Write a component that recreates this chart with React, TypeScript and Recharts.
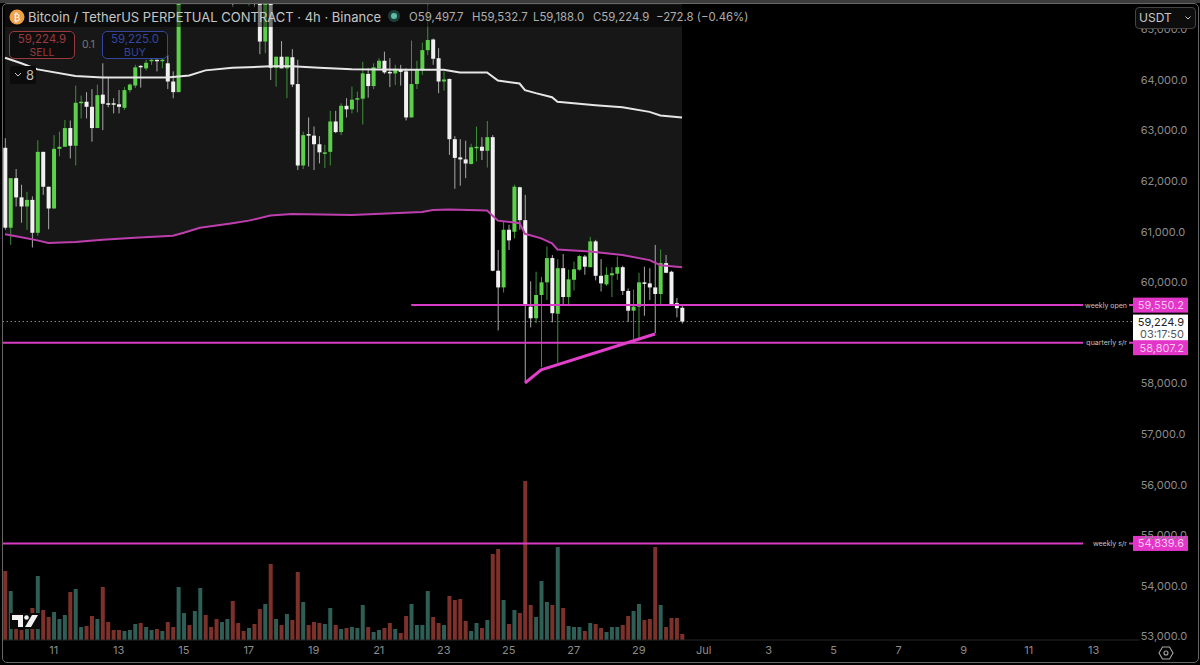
import React from 'react';
import {
  ComposedChart, Area, Bar, Line, XAxis, YAxis, ReferenceLine
} from 'recharts';

const opens = [
  62660, 61080, 62060, 61680, 61500, 61630, 60980, 62580, 61890, 61460,
  62640, 62680, 63050, 62700, 63550, 63570, 63470, 63050, 63710, 63540,
  63540, 63520, 63450, 63800, 63890, 64280, 64230, 64380, 64400, 64380,
  64330, 63970, 63760, 65700, 66100, 65900, 66300, 66700, 66450, 66200,
  66000, 66300, 66500, 65950, 65800, 65700, 65950, 65650, 64760, 65600,
  64240, 64460, 64230, 64450, 63920, 62310, 62930, 62900, 62730, 62550,
  62580, 63180, 62970, 63490, 63420, 63610, 63630, 64120, 63880, 64230,
  64380, 64160, 64130, 64200, 64170, 63260, 63920, 64190, 64590, 64800,
  64430, 63970, 64020, 62830, 62470, 62430, 62340, 62670, 62680, 62600,
  62870, 60230, 59900, 61040, 61000, 61880, 61230, 59520, 59290, 59750,
  60000, 60480, 59380, 60280, 59710, 60050, 60250, 60510, 60300, 60810,
  60130, 59960, 60140, 60170, 60300, 59830, 59440, 59520, 60000, 59980,
  59900, 59770, 60380, 60210, 59590, 59497.7,
];
const highs = [
  62850, 62060, 62240, 61930, 61790, 61700, 62810, 62580, 61890, 62910,
  62980, 63210, 63200, 63890, 63690, 63760, 63820, 63910, 64330, 64050,
  63640, 63800, 63860, 63930, 64300, 64290, 64400, 64410, 64400, 64420,
  64490, 64170, 65900, 66250, 66200, 66450, 66850, 66800, 66550, 66300,
  66400, 66650, 66600, 66050, 65900, 66050, 66000, 65750, 65700, 65700,
  64460, 64770, 64460, 64610, 64400, 62980, 63260, 63080, 62890, 62720,
  63390, 63390, 63540, 63640, 63870, 63770, 64360, 64230, 64330, 64430,
  64560, 64430, 64300, 64300, 64230, 64780, 64380, 64740, 65500, 64820,
  64630, 64170, 64030, 62890, 62830, 62800, 62740, 63080, 62870, 63190,
  62910, 60640, 61200, 61140, 61930, 61890, 61730, 60020, 60210, 60110,
  60710, 60540, 60460, 60560, 60250, 60410, 60540, 60540, 60900, 60840,
  60460, 60300, 60300, 60510, 60330, 59880, 59860, 60190, 60310, 60280,
  60740, 60650, 60540, 60230, 59690, 59532.7,
];
const lows = [
  61040, 60740, 61500, 61180, 61040, 60690, 60920, 61730, 61050, 61460,
  62490, 62680, 62450, 62310, 63240, 63240, 62780, 63050, 63010, 63460,
  63340, 63340, 63410, 63750, 63840, 63850, 64190, 64300, 64170, 64230,
  63820, 63640, 63760, 65620, 65800, 65850, 66200, 66300, 66100, 65900,
  65900, 66200, 65440, 65650, 65600, 65450, 65440, 64510, 64530, 64000,
  63870, 64230, 63640, 63860, 62220, 62240, 62290, 62220, 62350, 62260,
  62310, 62950, 62910, 63260, 63340, 63360, 63120, 63650, 63820, 64230,
  64120, 63860, 63900, 63890, 63200, 63260, 63820, 64100, 64490, 64300,
  63740, 63790, 62520, 61850, 61910, 62060, 62330, 62390, 62420, 62270,
  60220, 59050, 59800, 60640, 60870, 61040, 58040, 59110, 59190, 58320,
  59650, 59210, 58410, 59550, 59530, 59840, 60230, 60150, 60300, 60040,
  59820, 59930, 59710, 60050, 59750, 59220, 58880, 58880, 59340, 59650,
  58990, 59550, 60180, 59550, 59310, 59188,
];
const closes = [
  61080, 62060, 61680, 61500, 61630, 60980, 62580, 61890, 61460, 62640,
  62680, 63050, 62700, 63550, 63570, 63470, 63050, 63700, 63530, 63520,
  63520, 63470, 63800, 63910, 64250, 64250, 64340, 64400, 64380, 64400,
  63970, 63760, 65700, 66100, 65900, 66300, 66700, 66450, 66200, 66000,
  66300, 66500, 65950, 65800, 65700, 65950, 65650, 64760, 65600, 64240,
  64460, 64230, 64460, 63910, 62310, 62910, 62900, 62730, 62570, 62570,
  63180, 62970, 63490, 63420, 63610, 63640, 64130, 63880, 64250, 64380,
  64150, 64140, 64220, 64160, 63260, 63920, 64190, 64590, 64790, 64420,
  63970, 64010, 62830, 62460, 62430, 62350, 62670, 62680, 62600, 62870,
  60230, 59900, 61040, 60830, 61890, 61230, 59550, 59290, 59750, 60000,
  60480, 59390, 60280, 59710, 60060, 60260, 60520, 60310, 60810, 60130,
  59980, 60150, 60180, 60300, 59830, 59440, 59520, 60000, 59970, 59900,
  59770, 60380, 60190, 59570, 59490, 59224.9,
];
const volumes = [
  69, 49, 13, 10, 17, 32, 64, 30, 23, 28,
  21, 25, 48, 51, 13, 14, 24, 21, 53, 18,
  10, 10, 9, 10, 16, 17, 13, 10, 11, 9,
  18, 13, 53, 27, 15, 29, 52, 25, 13, 21,
  18, 21, 39, 17, 9, 12, 16, 31, 36, 76,
  21, 15, 26, 20, 68, 38, 15, 18, 17, 16,
  32, 15, 11, 12, 13, 12, 35, 13, 8, 10,
  12, 17, 11, 7, 24, 36, 15, 15, 49, 23,
  17, 15, 44, 40, 41, 19, 9, 17, 12, 20,
  86, 91, 40, 16, 30, 27, 159, 35, 23, 59,
  38, 35, 93, 32, 14, 13, 13, 9, 17, 16,
  12, 8, 13, 13, 15, 24, 29, 36, 20, 21,
  93, 35, 13, 22, 22, 6,
];

// [slot, price] at the bends of each line
const whiteBand = [
  [0, 64440], [3, 64330], [6, 64210], [13, 64080], [18, 64050], [30, 64050], [34, 64090],
  [37, 64190], [42, 64240], [49, 64270], [53, 64270], [58, 64240], [64, 64210], [74, 64200],
  [81, 64200], [84, 64150], [89, 64150], [91, 63990], [95, 63930], [96, 63800], [98, 63740],
  [101, 63660], [102, 63570], [109, 63500], [114, 63460], [119, 63370], [121, 63300], [125, 63260],
];
const pinkBand = [
  [0, 60950], [3, 60890], [6, 60830], [8, 60780], [13, 60800], [18, 60840], [24, 60880],
  [31, 60920], [33, 60980], [36, 61080], [42, 61170], [45, 61220], [49, 61320], [53, 61350],
  [64, 61330], [77, 61390], [79, 61430], [82, 61440], [89, 61420], [91, 61220], [95, 61170],
  [96, 60960], [99, 60870], [101, 60770], [102, 60650], [108, 60610], [114, 60540], [119, 60440],
  [121, 60340], [125, 60300],
];
const trendLine = [[96, 58010], [99, 58270], [120, 58980]];

const tickSlots = [9, 21, 33, 45, 57, 69, 81, 93, 105, 117, 129, 141, 153, 165, 177, 189, 201];
const tickLabels = ['11', '13', '15', '17', '19', '21', '23', '25', '27', '29', 'Jul', '3', '5', '7', '9', '11', '13'];
const priceTicks = [53000, 54000, 55000, 56000, 57000, 58000, 60000, 61000, 62000, 63000, 64000, 65000];

const PRICE_TOP = 65502;
const PRICE_BOTTOM = 52931;
const SLOT_COUNT = 210;
const lastPrice = 59224.9;
const weeklyOpen = 59550.2;
const quarterlySR = 58807.2;
const weeklySR = 54839.6;

const pointAt = (list: number[][], slot: number) => {
  const hit = list.find(p => p[0] === slot);
  return hit ? hit[1] : null;
};

const data = Array.from({ length: SLOT_COUNT }, (_, slot) => ({
  slot,
  open: opens[slot],
  high: highs[slot],
  low: lows[slot],
  close: closes[slot],
  range: slot < opens.length ? [lows[slot], highs[slot]] : null,
  volume: slot < opens.length ? volumes[slot] : null,
  white: pointAt(whiteBand, slot),
  pink: pointAt(pinkBand, slot),
  trend: pointAt(trendLine, slot),
}));

const FONT = 'Inter, "Liberation Sans", sans-serif';
const PINK = '#d93cc4';

const Candle = (props: any) => {
  const { x, y, width, height, payload } = props;
  if (payload.high === undefined || !height) return null;
  const up = payload.close >= payload.open;
  const perPrice = height / (payload.high - payload.low);
  const bodyTop = y + (payload.high - Math.max(payload.open, payload.close)) * perPrice;
  const bodyHeight = Math.max(1.5, Math.abs(payload.close - payload.open) * perPrice);
  return (
    <g>
      <rect x={x + width / 2 - 0.5} y={y} width={1} height={height} fill={up ? '#3f8f38' : '#a8a8a8'} />
      <rect x={x} y={bodyTop} width={width} height={bodyHeight} fill={up ? '#5ccf4b' : '#f1f1f1'} />
    </g>
  );
};

const VolumeBar = (props: any) => {
  const { x, y, width, height, payload } = props;
  if (!height) return null;
  const up = payload.close >= payload.open;
  return <rect x={x} y={y} width={width} height={height} fill={up ? '#2f5e56' : '#7c312b'} />;
};

const PriceTag = ({ viewBox, name, text, shift = 0 }: any) => {
  const y = viewBox.y;
  return (
    <g fontFamily={FONT}>
      <rect x={1083} y={y - 5} width={46} height={10} fill="#000" />
      <text x={1127} y={y + 2.5} textAnchor="end" fontSize={7} fill="#c4c4c4">{name}</text>
      <rect x={1133} y={y - 7.5 + shift} width={55} height={15} fill="#e335c8" />
      <text x={1184} y={y + 4 + shift} textAnchor="end" fontSize={11} fill="#f7c6ef">{text}</text>
    </g>
  );
};

const LastPriceTag = ({ viewBox }: any) => {
  const y = viewBox.y;
  return (
    <g fontFamily={FONT}>
      <rect x={1133} y={y - 7} width={55} height={28} fill="#fff" />
      <text x={1184} y={y + 4} textAnchor="end" fontSize={11} fill="#222">59,224.9</text>
      <text x={1184} y={y + 16.5} textAnchor="end" fontSize={11} fill="#555">03:17:50</text>
    </g>
  );
};

const tradeBox = (left: number, color: string, price: string, side: string) => (
  <div style={{
    position: 'absolute', left, top: 31, width: 66, height: 28, border: `1px solid ${color}`, borderRadius: 5,
    background: '#0e0e0e', color, textAlign: 'center', fontSize: 11.5, lineHeight: '13px', paddingTop: 1, boxSizing: 'border-box',
  }}>
    <div>{price}</div>
    <div style={{ fontSize: 10.5 }}>{side}</div>
  </div>
);

const ohlcText = (left: number, text: string) => (
  <div style={{ position: 'absolute', left, top: 10, fontSize: 11.4, color: '#aeaeae', whiteSpace: 'nowrap' }}>{text}</div>
);

const App: React.FC = () => {
  return (
    <div style={{ position: 'absolute', left: 0, top: 0, width: 1200, height: 665, background: '#000', overflow: 'hidden', fontFamily: FONT }}>
      <ComposedChart
        width={1200}
        height={665}
        data={data}
        barGap={0}
        margin={{ top: 4, right: 0, bottom: 0, left: 2.3 }}
      >
        <XAxis
          dataKey="slot"
          ticks={tickSlots}
          interval={0}
          height={25}
          tickSize={0}
          tickMargin={6}
          tickFormatter={(v: number) => tickLabels[tickSlots.indexOf(v)]}
          tick={{ fill: '#8c8c8c', fontSize: 11, fontFamily: FONT }}
          axisLine={{ stroke: '#262626' }}
        />
        <XAxis xAxisId="vol" dataKey="slot" hide />
        <YAxis
          orientation="right"
          width={60.3}
          domain={[PRICE_BOTTOM, PRICE_TOP]}
          allowDataOverflow
          ticks={priceTicks}
          interval={0}
          tickSize={0}
          tickMargin={1}
          tickFormatter={(v: number) => v.toLocaleString('en-US', { minimumFractionDigits: 1 })}
          tick={{ fill: '#8c8c8c', fontSize: 11, fontFamily: FONT }}
          axisLine={false}
        />
        <YAxis yAxisId="vol" hide domain={[0, 636]} />

        <Area dataKey="pink" baseValue={PRICE_TOP} connectNulls fill="#171717" fillOpacity={1} stroke="none" dot={false} activeDot={false} isAnimationActive={false} />
        <Bar xAxisId="vol" yAxisId="vol" dataKey="volume" barSize={4} shape={VolumeBar} isAnimationActive={false} />
        <Bar dataKey="range" barSize={4} shape={Candle} isAnimationActive={false} />
        <Line dataKey="white" connectNulls stroke="#e6e6e6" strokeWidth={2} dot={false} activeDot={false} isAnimationActive={false} />
        <Line dataKey="pink" connectNulls stroke="#bd3fae" strokeWidth={2} dot={false} activeDot={false} isAnimationActive={false} />

        <ReferenceLine
          y={lastPrice}
          stroke="#d0d0d0"
          strokeDasharray="1 3"
          label={<LastPriceTag />}
        />
        <ReferenceLine
          segment={[{ x: 75, y: weeklyOpen }, { x: 209, y: weeklyOpen }]}
          stroke={PINK}
          strokeWidth={2}
          label={<PriceTag name="weekly open" text="59,550.2" />}
        />
        <ReferenceLine
          y={quarterlySR}
          stroke={PINK}
          strokeWidth={2}
          label={<PriceTag name="quarterly s/r" text="58,807.2" shift={5} />}
        />
        <ReferenceLine
          y={weeklySR}
          stroke={PINK}
          strokeWidth={2}
          label={<PriceTag name="weekly s/r" text="54,839.6" />}
        />
        <Line dataKey="trend" connectNulls stroke="#e23fcb" strokeWidth={3} dot={false} activeDot={false} isAnimationActive={false} />
      </ComposedChart>

      {/* header strip */}
      <div style={{ position: 'absolute', left: 4, top: 5, width: 735, height: 22, background: 'rgba(0,0,0,0.5)' }} />
      <svg width={26} height={26} style={{ position: 'absolute', left: 4, top: 4 }}>
        <circle cx={13} cy={13} r={7.5} fill="#f0a243" />
        <text x={13} y={16.5} textAnchor="middle" fontSize={10} fontFamily="DejaVu Sans" fill="#fff">₿</text>
      </svg>
      <div style={{ position: 'absolute', left: 28, top: 9, fontSize: 13, color: '#c6c6c6', whiteSpace: 'nowrap' }}>
        Bitcoin / TetherUS PERPETUAL CONTRACT · 4h · Binance
      </div>
      <svg width={16} height={16} style={{ position: 'absolute', left: 386, top: 8 }}>
        <circle cx={8} cy={8} r={6} fill="#1d3f3a" />
        <circle cx={8} cy={8} r={3} fill="#62bcaa" />
      </svg>
      {ohlcText(409, 'O59,497.7')}
      {ohlcText(472, 'H59,532.7')}
      {ohlcText(533, 'L59,188.0')}
      {ohlcText(593, 'C59,224.9')}
      {ohlcText(656, '−272.8 (−0.46%)')}

      {tradeBox(9, '#9a3a3f', '59,224.9', 'SELL')}
      <div style={{ position: 'absolute', left: 82, top: 38, fontSize: 10.5, color: '#777' }}>0.1</div>
      {tradeBox(102, '#3346a0', '59,225.0', 'BUY')}

      <div style={{ position: 'absolute', left: 10, top: 66, width: 26, height: 18, background: '#0b0b0b', borderRadius: 2, color: '#bbb', fontSize: 13, lineHeight: '18px' }}>
        <svg width={10} height={18} style={{ position: 'absolute', left: 3, top: 0 }}>
          <path d="M2 7 L5 10 L8 7" fill="none" stroke="#ccc" strokeWidth={1} />
        </svg>
        <span style={{ position: 'absolute', left: 16 }}>8</span>
      </div>

      <div style={{ position: 'absolute', left: 1135, top: 7, width: 61, height: 22, border: '1px solid #444', borderRadius: 4, background: '#0d0d0d', boxSizing: 'border-box', color: '#c8c8c8', fontSize: 12, lineHeight: '20px', paddingLeft: 3 }}>
        USDT
        <svg width={8} height={20} style={{ position: 'absolute', right: 3, top: 0 }}>
          <path d="M1.5 8.5 L4 11 L6.5 8.5" fill="none" stroke="#ccc" strokeWidth={1} />
        </svg>
      </div>

      {/* tradingview mark */}
      <svg width={30} height={16} style={{ position: 'absolute', left: 10, top: 613 }}>
        <rect width={30} height={16} fill="#0a0a0a" />
        <path d="M2 2 H13 V14 H8 V7 H2 Z" fill="#f2f2f2" />
        <circle cx={16.5} cy={4.5} r={2.3} fill="#f2f2f2" />
        <path d="M22 2 H28 L21 14 H15 Z" fill="#f2f2f2" />
      </svg>

      {/* settings icon */}
      <svg width={16} height={16} style={{ position: 'absolute', left: 1158, top: 645 }}>
        <path d="M4.5 2 H11.5 L15 8 L11.5 14 H4.5 L1 8 Z" fill="none" stroke="#a5a5a5" strokeWidth={1.1} />
        <circle cx={8} cy={8} r={2} fill="none" stroke="#a5a5a5" strokeWidth={1.1} />
      </svg>

      {/* window frame */}
      <div style={{ position: 'absolute', left: 0, top: 0, width: 1200, height: 3, background: '#3c3c3c' }} />
      <div style={{ position: 'absolute', left: 2, top: 3, width: 1197, height: 660, border: '1px solid #666', borderRadius: 5, boxSizing: 'border-box', pointerEvents: 'none' }} />
    </div>
  );
};

export default App;
